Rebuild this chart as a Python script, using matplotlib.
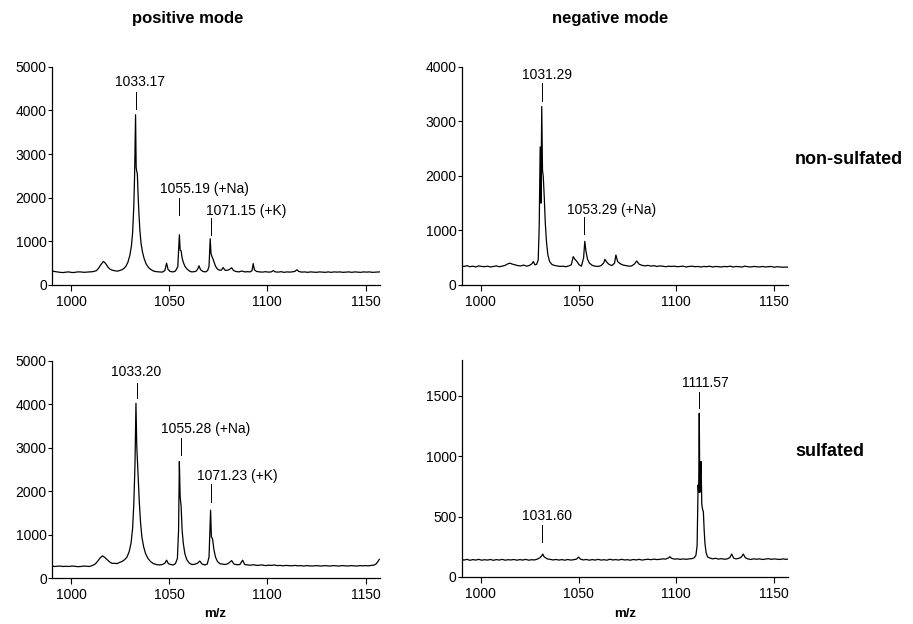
import matplotlib
matplotlib.use("Agg")
import matplotlib.pyplot as plt

plt.rcParams['font.family'] = ['Liberation Sans', 'DejaVu Sans']

# ---------------- data ----------------
# positive mode, non-sulfated
tl_mz = [990, 991.5, 993, 994.5, 996, 997.5, 999, 1000.5, 1002, 1003.5,
         1005, 1006.5, 1008, 1009.5, 1011, 1012, 1013, 1014, 1015, 1016.5,
         1017.3, 1018, 1019, 1020, 1021, 1022, 1023, 1024, 1025, 1026,
         1027, 1028, 1029, 1030, 1030.8, 1031.4, 1032.0, 1032.4, 1032.9, 1033.2,
         1033.5, 1033.8, 1034.2, 1034.6, 1035.1, 1035.7, 1036.4, 1037.3, 1038.3, 1039.5,
         1040.5, 1042, 1043.5, 1045, 1046.5, 1047.8, 1048.7, 1049.4, 1050.5, 1052,
         1053.2, 1054.4, 1055.2, 1055.6, 1056.1, 1056.6, 1057.2, 1058, 1059, 1060.3,
         1061.5, 1062.8, 1063.8, 1064.6, 1065.2, 1066, 1067.2, 1068.5, 1069.6, 1070.3,
         1070.9, 1071.3, 1071.8, 1072.3, 1072.9, 1073.6, 1074.5, 1075.5, 1076.6, 1077.5,
         1078.4, 1079.5, 1080.5, 1081.8, 1082.8, 1084, 1085.5, 1087, 1088.5, 1090,
         1091.2, 1092.2, 1092.8, 1093.4, 1094.5, 1096, 1097.5, 1099, 1100.5, 1102,
         1103, 1104, 1105.5, 1107, 1108.5, 1110, 1111.5, 1113, 1114, 1115,
         1116, 1117.5, 1119, 1120.5, 1122, 1123.5, 1125, 1126.5, 1128, 1129.5,
         1131, 1132.5, 1134, 1135.5, 1137, 1138.5, 1140, 1141.5, 1143, 1144.5,
         1146, 1147.5, 1149, 1150.5, 1152, 1153.5, 1155, 1157]
tl_int = [330, 310, 300, 290, 285, 295, 300, 285, 290, 300,
          300, 290, 295, 300, 305, 315, 330, 380, 450, 540,
          510, 470, 400, 360, 340, 330, 320, 320, 335, 350,
          380, 430, 520, 680, 900, 1200, 1800, 2500, 3900, 2700,
          2600, 2550, 2050, 1650, 1250, 950, 760, 600, 480, 400,
          360, 320, 305, 300, 295, 330, 500, 360, 310, 300,
          320, 420, 1150, 800, 780, 620, 520, 430, 370, 320,
          300, 305, 320, 370, 440, 350, 310, 300, 330, 430,
          1060, 720, 650, 600, 520, 430, 370, 340, 340, 400,
          340, 335, 350, 395, 330, 310, 300, 320, 300, 305,
          300, 330, 490, 350, 310, 300, 295, 305, 295, 300,
          330, 300, 295, 305, 290, 300, 295, 305, 310, 350,
          310, 295, 300, 290, 300, 295, 290, 300, 295, 290,
          300, 290, 300, 295, 300, 290, 295, 300, 290, 300,
          295, 290, 300, 295, 300, 290, 295, 300]

# negative mode, non-sulfated
tr_mz = [990, 991.5, 993, 994.5, 996, 997.5, 999, 1000.5, 1002, 1003.5,
         1005, 1006.5, 1008, 1009.5, 1011, 1012.5, 1014, 1015, 1016, 1017.5,
         1019, 1020.5, 1022, 1023.5, 1025, 1026.2, 1026.9, 1027.7, 1028.6, 1029.4,
         1029.9, 1030.4, 1030.8, 1031.2, 1031.6, 1032.0, 1032.5, 1033.0, 1033.6, 1034.3,
         1035.2, 1036.3, 1037.5, 1039, 1040.5, 1042, 1043.5, 1045, 1046.3, 1047.3,
         1048.2, 1049.2, 1050.3, 1051.5, 1052.6, 1053.2, 1053.8, 1054.6, 1055.6, 1057,
         1058.5, 1060, 1061.5, 1062.8, 1063.5, 1064.4, 1065.5, 1067, 1068.4, 1069.1,
         1070, 1071.3, 1072.8, 1074.3, 1075.8, 1077.2, 1078.6, 1079.7, 1081, 1082.5,
         1084, 1085.5, 1087, 1088.5, 1090, 1091.5, 1093, 1094.5, 1096, 1097.5,
         1099, 1100.5, 1102, 1103.5, 1105, 1106.5, 1108, 1109.5, 1111, 1112.5,
         1114, 1115.5, 1117, 1118.5, 1120, 1121.5, 1123, 1124.5, 1126, 1127.5,
         1129, 1130.5, 1132, 1133.5, 1135, 1136.5, 1138, 1139.5, 1141, 1142.5,
         1144, 1145.5, 1147, 1148.5, 1150, 1151.5, 1153, 1154.5, 1156, 1157]
tr_int = [350, 340, 355, 335, 345, 330, 350, 340, 335, 345,
          330, 340, 350, 335, 345, 360, 390, 400, 385, 370,
          355, 350, 365, 345, 360, 390, 430, 370, 380, 460,
          1050, 2530, 1500, 3270, 2100, 1980, 1600, 1150, 800, 560,
          430, 380, 360, 350, 340, 345, 335, 350, 370, 520,
          470, 430, 370, 345, 500, 800, 620, 470, 400, 360,
          345, 340, 355, 400, 470, 420, 380, 355, 400, 550,
          430, 390, 365, 355, 345, 350, 385, 440, 380, 360,
          350, 360, 345, 355, 340, 350, 345, 335, 345, 340,
          345, 335, 340, 345, 330, 340, 345, 335, 340, 330,
          340, 335, 345, 330, 340, 335, 330, 340, 335, 345,
          330, 340, 335, 330, 345, 335, 330, 340, 335, 330,
          340, 330, 335, 340, 325, 335, 330, 325, 330, 325]

# positive mode, sulfated
bl_mz = [990, 991.5, 993, 994.5, 996, 997.5, 999, 1000.5, 1002, 1003.5,
         1005, 1006.5, 1008, 1009.5, 1011, 1012.3, 1013.5, 1014.8, 1016.1, 1017.3,
         1018.5, 1019.7, 1021, 1022.3, 1023.5, 1024.8, 1026, 1027.3, 1028.5, 1029.6,
         1030.6, 1031.4, 1032.0, 1032.6, 1033.1, 1033.5, 1033.9, 1034.3, 1034.8, 1035.4,
         1036.1, 1037, 1038, 1039.2, 1040.5, 1042, 1043.5, 1045, 1046.5, 1047.8,
         1048.7, 1049.6, 1050.8, 1052, 1053.2, 1054.2, 1054.8, 1055.2, 1055.6, 1056.1,
         1056.6, 1057.2, 1058, 1059, 1060.3, 1061.6, 1063, 1064.4, 1065.6, 1066.8,
         1068.2, 1069.4, 1070.3, 1071.1, 1071.5, 1072.1, 1072.8, 1073.6, 1074.6, 1075.8,
         1077, 1078.5, 1080, 1081.8, 1083, 1084.5, 1086, 1087.4, 1088.5, 1090,
         1091.5, 1093, 1094.5, 1096, 1097.5, 1099, 1100.5, 1102, 1103.5, 1105,
         1106.5, 1108, 1109.5, 1111, 1112.5, 1114, 1115.5, 1117, 1118.5, 1120,
         1121.5, 1123, 1124.5, 1126, 1127.5, 1129, 1130.5, 1132, 1133.5, 1135,
         1136.5, 1138, 1139.5, 1141, 1142.5, 1144, 1145.5, 1147, 1148.5, 1150,
         1151.5, 1153, 1154.5, 1155.5, 1156.3, 1157]
bl_int = [280, 265, 270, 275, 265, 270, 265, 275, 270, 260,
          265, 275, 270, 265, 290, 320, 380, 460, 510, 470,
          420, 370, 335, 340, 330, 360, 380, 420, 480, 600,
          800, 1150, 1700, 2600, 4020, 3050, 2650, 2200, 1750, 1300,
          950, 720, 560, 450, 380, 330, 310, 300, 310, 340,
          410, 330, 310, 300, 330, 450, 1100, 2680, 1870, 1650,
          1100, 800, 560, 420, 340, 310, 315, 340, 390, 320,
          300, 320, 480, 1560, 950, 900, 650, 480, 380, 330,
          320, 310, 330, 400, 320, 305, 310, 410, 310, 300,
          295, 305, 290, 295, 300, 285, 295, 290, 300, 285,
          290, 280, 290, 285, 280, 290, 280, 285, 275, 285,
          280, 275, 285, 280, 275, 285, 280, 275, 285, 280,
          275, 285, 280, 275, 285, 280, 275, 285, 280, 285,
          280, 290, 300, 330, 380, 430]

# negative mode, sulfated
br_mz = [990, 991.5, 993, 994.5, 996, 997.5, 999, 1000.5, 1002, 1003.5,
         1005, 1006.5, 1008, 1009.5, 1011, 1012.5, 1014, 1015.5, 1017, 1018.5,
         1020, 1021.5, 1023, 1024.5, 1026, 1027.5, 1029, 1030.3, 1031.2, 1031.7,
         1032.3, 1033, 1034, 1035.5, 1037, 1038.5, 1040, 1041.5, 1043, 1044.5,
         1046, 1047.5, 1049, 1050, 1051, 1052.5, 1054, 1055.5, 1057, 1058.5,
         1060, 1061.5, 1063, 1064.5, 1066, 1067.5, 1069, 1070.5, 1072, 1073.5,
         1075, 1076.5, 1078, 1079.5, 1081, 1082.5, 1084, 1085.5, 1087, 1088.5,
         1090, 1091.5, 1093, 1094.5, 1096, 1096.7, 1097.5, 1099, 1100.5, 1102,
         1103.5, 1105, 1106.5, 1108, 1109.2, 1110, 1110.6, 1111.1, 1111.4, 1111.7,
         1112.0, 1112.3, 1112.6, 1113.0, 1113.4, 1113.8, 1114.2, 1114.6, 1115.2, 1116,
         1117, 1118.5, 1120, 1121.5, 1123, 1124.5, 1126, 1127.3, 1128.3, 1129.3,
         1130.5, 1132, 1133.2, 1134.2, 1135.2, 1136.5, 1138, 1139.5, 1141, 1142.5,
         1144, 1145.5, 1147, 1148.5, 1150, 1151.5, 1153, 1154.5, 1156, 1157]
br_int = [145, 140, 146, 138, 144, 140, 146, 139, 143, 140,
          145, 138, 144, 140, 146, 139, 143, 141, 145, 139,
          144, 140, 146, 139, 143, 141, 148, 160, 175, 190,
          170, 160, 150, 146, 141, 145, 140, 144, 139, 145,
          140, 143, 148, 165, 148, 141, 145, 139, 144, 140,
          146, 140, 143, 139, 147, 141, 144, 140, 146, 141,
          143, 139, 145, 141, 146, 140, 144, 147, 143, 148,
          144, 146, 150, 148, 158, 168, 155, 148, 150, 146,
          150, 146, 150, 152, 160, 180, 260, 760, 700, 1355,
          700, 850, 955, 600, 560, 540, 390, 280, 200, 165,
          158, 150, 155, 148, 152, 147, 150, 160, 190, 155,
          150, 155, 165, 190, 160, 150, 145, 150, 147, 150,
          145, 148, 152, 146, 150, 147, 145, 150, 146, 148]

# peak labels: text, m/z of the marker line
tl_labels = ["1033.17", "1055.19 (+Na)", "1071.15 (+K)"]
tl_label_mz = [1032.9, 1055.2, 1071.1]
tr_labels = ["1031.29", "1053.29 (+Na)"]
tr_label_mz = [1031.5, 1052.9]
bl_labels = ["1033.20", "1055.28 (+Na)", "1071.23 (+K)"]
bl_label_mz = [1033.4, 1055.9, 1071.1]
br_labels = ["1031.60", "1111.57"]
br_label_mz = [1031.5, 1111.7]

yticks_tl = [0, 1000, 2000, 3000, 4000, 5000]
yticks_tr = [0, 1000, 2000, 3000, 4000]
yticks_bl = [0, 1000, 2000, 3000, 4000, 5000]
yticks_br = [0, 500, 1000, 1500]
xticks = [1000, 1050, 1100, 1150]

# ---------------- layout ----------------
W, H = 913, 624
fig = plt.figure(figsize=(W / 100, H / 100), dpi=100)

def frac(x0, x1, ytop, ybot):
    return [x0 / W, 1 - ybot / H, (x1 - x0) / W, (ybot - ytop) / H]

XLIM = (990.2, 1157.2)

panels = [
    (frac(51.7, 379.7, 66.7, 285), tl_mz, tl_int, (0, 5000), yticks_tl, tl_labels, tl_label_mz,
     [(4030, 4420), (1603, 1985), (1145, 1527)], [(1035.1, 4560), (1068.2, 2110), (1089.0, 1600)]),
    (frac(461.5, 788.3, 66.7, 285), tr_mz, tr_int, (0, 4000), yticks_tr, tr_labels, tr_label_mz,
     [(3376, 3695), (929, 1251)], [(1033.9, 3780), (1066.7, 1310)]),
    (frac(51.7, 379.7, 360.7, 578), bl_mz, bl_int, (0, 5000), yticks_bl, bl_labels, bl_label_mz,
     [(4133, 4478), (2829, 3213), (1755, 2162)], [(1033.4, 4640), (1068.6, 3330), (1084.6, 2250)]),
    (frac(461.5, 788.3, 360, 577), br_mz, br_int, (0, 1795), yticks_br, br_labels, br_label_mz,
     [(292, 430), (1395, 1532)], [(1033.7, 468), (1114.6, 1572)]),
]

for rect, mz, inten, ylim, yt, labs, lmz, lines, tpos in panels:
    ax = fig.add_axes(rect)
    ax.plot(mz, inten, color='black', lw=0.9)
    ax.set_xlim(*XLIM)
    ax.set_ylim(*ylim)
    ax.set_xticks(xticks)
    ax.set_yticks(yt)
    for s in ('top', 'right'):
        ax.spines[s].set_visible(False)
    for s in ('left', 'bottom'):
        ax.spines[s].set_linewidth(0.9)
    ax.tick_params(axis='y', length=3, width=0.8, pad=0.5, labelsize=10)
    ax.tick_params(axis='x', length=4, width=0.8, pad=3, labelsize=10)
    for lab, m, (y0, y1), (tx, ty) in zip(labs, lmz, lines, tpos):
        ax.plot([m, m], [y0, y1], color='black', lw=0.7)
        ax.text(tx, ty, lab, ha='center', va='baseline', fontsize=10)

fig.text(188 / W, 1 - 18 / H, "positive mode", ha='center', va='center',
         fontsize=12, fontweight='bold')
fig.text(610 / W, 1 - 18 / H, "negative mode", ha='center', va='center',
         fontsize=12, fontweight='bold')
fig.text(795 / W, 1 - 159 / H, "non-sulfated", ha='left', va='center',
         fontsize=13, fontweight='bold')
fig.text(795 / W, 1 - 452 / H, "sulfated", ha='left', va='center',
         fontsize=13, fontweight='bold')
fig.text(215 / W, 1 - 614 / H, "m/z", ha='center', va='center',
         fontsize=9.5, fontweight='bold')
fig.text(625 / W, 1 - 614 / H, "m/z", ha='center', va='center',
         fontsize=9.5, fontweight='bold')

fig.savefig("out.png", dpi=100)
